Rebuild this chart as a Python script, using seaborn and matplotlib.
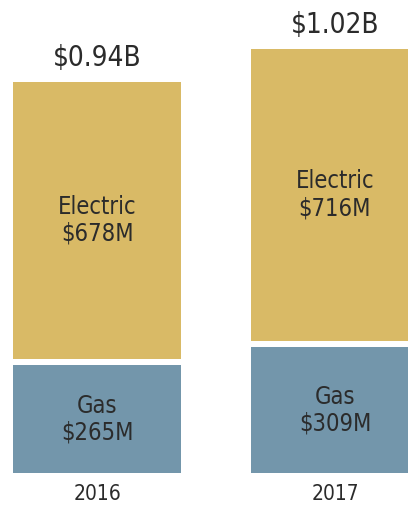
import matplotlib
matplotlib.use("Agg")
import matplotlib.pyplot as plt
import seaborn as sns
import pandas as pd

years = ["2016", "2017"]
gas = [265, 309]
electric = [678, 716]
totals = ["$0.94B", "$1.02B"]

ELEC_COLOR = "#D9BA66"
GAS_COLOR = "#7396AB"
TEXT_COLOR = "#2b2b2b"
GAP = 15  # white gap between segments, in $M

sns.set_theme(style="white")
plt.rcParams['font.family'] = ['DejaVu Sans']
plt.rcParams['font.stretch'] = 'condensed'

df = pd.DataFrame({"year": years, "gas": gas, "electric": electric})
df["top"] = df["gas"] + GAP + df["electric"]
df["gas_gap"] = df["gas"] + GAP

fig = plt.figure(figsize=(4.08, 5.05), dpi=100)
ax = fig.add_axes([0, 0, 1, 1])

bar_w = 0.706
sns.barplot(data=df, x="year", y="top", color=ELEC_COLOR, width=bar_w,
            saturation=1, ax=ax, linewidth=0)
sns.barplot(data=df, x="year", y="gas_gap", color="white", width=bar_w,
            saturation=1, ax=ax, linewidth=0)
sns.barplot(data=df, x="year", y="gas", color=GAS_COLOR, width=bar_w,
            saturation=1, ax=ax, linewidth=0)

txt = dict(ha="center", va="center", color=TEXT_COLOR, fontstretch="condensed")
for i, row in df.iterrows():
    ax.text(i, row["gas"] / 2, f"Gas\n${row['gas']}M",
            fontsize=17, linespacing=1.15, **txt)
    ax.text(i, row["gas_gap"] + row["electric"] / 2, f"Electric\n${row['electric']}M",
            fontsize=17, linespacing=1.15, **txt)
    ax.text(i, row["top"] + 58, totals[i], fontsize=20, **txt)
    ax.text(i, -50, row["year"], fontsize=15, **txt)

ax.set_xlim(-0.408, 1.307)
ax.set_ylim(-78, 1159)
ax.axis("off")

plt.savefig("out.png", dpi=100)
plt.close()
